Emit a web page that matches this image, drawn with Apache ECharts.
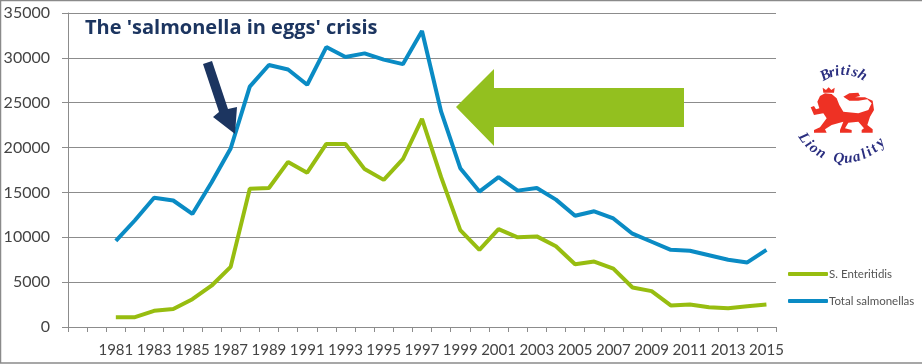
<!DOCTYPE html>
<html>
<head>
<meta charset="utf-8">
<title>Salmonella in eggs</title>
<style>
  html, body { margin: 0; padding: 0; background: #fff; }
  #chart { width: 922px; height: 364px; }
</style>
<script src="https://cdn.jsdelivr.net/npm/echarts@6/dist/echarts.min.js"></script>
</head>
<body>
<div id="chart"></div>
<script>
// the axis has two empty bands before 1981
var years = ['', '', '1981', '1982', '1983', '1984', '1985', '1986', '1987', '1988', '1989', '1990', '1991', '1992', '1993', '1994', '1995', '1996', '1997', '1998', '1999', '2000', '2001', '2002', '2003', '2004', '2005', '2006', '2007', '2008', '2009', '2010', '2011', '2012', '2013', '2014', '2015'];
var enteritidis = [null, null, 1100, 1100, 1800, 2000, 3100, 4600, 6700, 15400, 15500, 18400, 17200, 20400, 20400, 17600, 16400, 18700, 23200, 16700, 10800, 8600, 10900, 10000, 10100, 9000, 7000, 7300, 6500, 4400, 4000, 2400, 2500, 2200, 2100, 2300, 2500];
var totalSalmonellas = [null, null, 9600, 11900, 14400, 14100, 12600, 16100, 19900, 26800, 29200, 28700, 27000, 31200, 30100, 30500, 29800, 29300, 33000, 24000, 17700, 15100, 16700, 15200, 15500, 14200, 12400, 12900, 12100, 10400, 9500, 8600, 8500, 8000, 7500, 7200, 8600];

var GREEN = '#97bd10';
var BLUE = '#0a8bc4';
var GREY = '#8c8c8c';
var NAVY = '#2b2f80';
var LABEL_FONT = 'Lato';

// logo lettering, one text per character along a circle
function arcLetters(word, angles, radius) {
  return word.split('').map(function (ch, i) {
    var a = angles[i] * Math.PI / 180;
    return {
      type: 'text',
      x: 844 + radius * Math.sin(a),
      y: 110 - radius * Math.cos(a),
      rotation: -a,
      style: {
        text: ch,
        fill: NAVY,
        font: 'italic bold 15px "Liberation Serif"',
        align: 'center',
        verticalAlign: 'middle'
      }
    };
  });
}

var chart = echarts.init(document.getElementById('chart'), null, { renderer: 'canvas' });

var option = {
  animation: false,
  backgroundColor: '#fff',
  grid: { left: 68, right: 146, top: 13, height: 314 },
  legend: {
    orient: 'vertical',
    left: 783,
    top: 262,
    itemWidth: 40,
    itemHeight: 4,
    itemGap: 13,
    icon: 'roundRect',
    data: ['S. Enteritidis', 'Total salmonellas'],
    textStyle: { fontFamily: LABEL_FONT, fontSize: 11.5, color: '#555', padding: [0, 0, 0, -4], lineHeight: 14 }
  },
  xAxis: {
    type: 'category',
    data: years,
    boundaryGap: true,
    axisLine: { lineStyle: { color: GREY } },
    axisTick: { show: true, interval: 0, length: 5, lineStyle: { color: GREY } },
    axisLabel: {
      interval: function (i) { return i >= 2 && i % 2 === 0; },
      color: '#444',
      fontFamily: LABEL_FONT,
      fontSize: 15,
      margin: 16,
      hideOverlap: false
    }
  },
  yAxis: {
    type: 'value',
    min: 0,
    max: 35000,
    interval: 5000,
    axisLine: { show: true, lineStyle: { color: GREY } },
    axisTick: { show: true, length: 6, lineStyle: { color: GREY } },
    axisLabel: {
      color: '#444',
      fontFamily: LABEL_FONT,
      fontSize: 16,
      margin: 18,
      formatter: function (v) { return String(v); }
    },
    splitLine: { lineStyle: { color: GREY } }
  },
  series: [
    {
      name: 'S. Enteritidis',
      type: 'line',
      data: enteritidis,
      symbol: 'none',
      color: GREEN,
      lineStyle: { width: 4, color: GREEN }
    },
    {
      name: 'Total salmonellas',
      type: 'line',
      data: totalSalmonellas,
      symbol: 'none',
      color: BLUE,
      lineStyle: { width: 4, color: BLUE }
    }
  ],
  graphic: [
    // picture frame
    { type: 'rect', shape: { x: 0.5, y: 0.5, width: 940, height: 362.5 }, style: { fill: 'none', stroke: '#8a8a8a', lineWidth: 1.5 }, z: -1 },
    // title
    { type: 'text', x: 85, y: 28, style: { text: "The 'salmonella in eggs' crisis", fill: '#1c3560', font: 'bold 20px "Open Sans"', verticalAlign: 'middle' } },
    // dark arrow
    { type: 'polygon', shape: { points: [[203, 64], [212, 61], [228, 109], [237, 107], [235, 134], [213, 117], [219, 112]] }, style: { fill: '#1c3560' }, z: 5 },
    // green arrow
    { type: 'polygon', shape: { points: [[456, 107], [494, 69], [494, 88], [684, 88], [684, 127], [494, 127], [494, 146]] }, style: { fill: '#93c01f' }, z: 5 },
    // lion logo, drawn at 3x and scaled down
    {
      type: 'group',
      x: 790,
      y: 50,
      scaleX: 1 / 3,
      scaleY: 1 / 3,
      children: [
        { type: 'polygon', shape: { points: [[62, 172], [72, 168], [78, 178], [88, 175], [82, 155], [90, 138], [105, 130], [125, 132], [140, 145], [148, 165], [160, 185], [205, 190], [235, 180], [245, 160], [232, 148], [205, 152], [178, 152], [160, 140], [178, 130], [205, 128], [210, 138], [195, 142], [225, 142], [248, 152], [252, 180], [240, 200], [232, 225], [248, 238], [248, 248], [215, 248], [215, 240], [222, 235], [205, 215], [175, 218], [165, 235], [185, 240], [185, 248], [150, 248], [150, 240], [160, 215], [125, 225], [105, 238], [110, 248], [72, 248], [72, 240], [90, 232], [110, 205], [100, 190], [72, 195]] }, style: { fill: '#ee3124' } },
        { type: 'polygon', shape: { points: [[100, 128], [98, 113], [108, 120], [116, 112], [124, 120], [134, 113], [132, 128]] }, style: { fill: '#ee3124' } }
      ]
    }
  ].concat(
    arcLetters('British', [-28, -18, -10, -2, 6, 16, 28], 39),
    arcLetters('Lion', [55, 46, 38, 28], -49),
    arcLetters('Quality', [6, -5, -15, -24, -31, -38, -48], -49)
  )
};

chart.setOption(option);
</script>
</body>
</html>
